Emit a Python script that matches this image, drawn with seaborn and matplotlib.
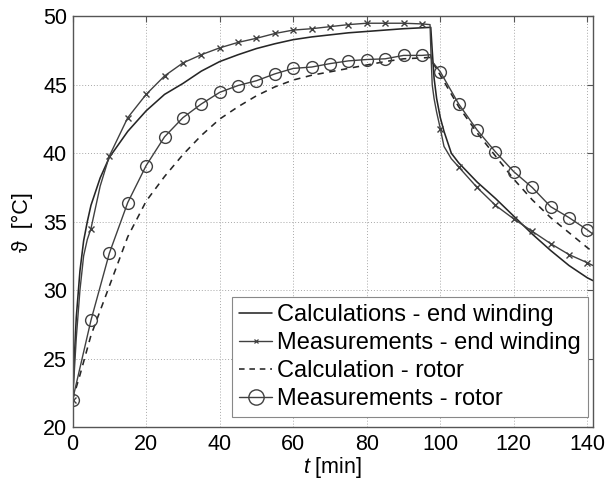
import numpy as np
import pandas as pd
import matplotlib
matplotlib.use("Agg")
import matplotlib.pyplot as plt
from matplotlib.lines import Line2D
import seaborn as sns

# end winding - calculation
t_calc_ew = [0, 0.5, 1, 2, 3, 4, 5, 7.5, 10, 15, 20, 25, 30, 35, 40, 45, 50, 55, 60, 65,
             70, 75, 80, 85, 90, 97.4, 97.8, 98.3, 99, 100, 101, 103, 105, 110, 115, 120,
             125, 130, 135, 140, 141.5]
calc_ew = [22.0, 25.2, 28.0, 31.4, 33.6, 35.0, 36.2, 38.2, 39.7, 41.6, 43.1, 44.3, 45.1,
           46.0, 46.7, 47.2, 47.65, 48.0, 48.3, 48.5, 48.65, 48.8, 48.9, 49.0, 49.1, 49.2,
           47.5, 45.5, 44.0, 42.6, 41.6, 40.0, 39.3, 37.9, 36.7, 35.4, 34.1, 32.9, 31.8,
           30.9, 30.7]

# end winding - measurement
t_meas_ew = [0, 0.5, 1, 2, 3, 4, 5, 7.5, 10, 15, 20, 25, 30, 35, 40, 45, 50, 55, 60, 65,
             70, 75, 80, 85, 90, 95, 97.2, 97.5, 97.8, 98.3, 99, 100, 101, 103, 105, 110,
             115, 120, 125, 130, 135, 140, 141.5]
meas_ew = [22.0, 24.2, 26.5, 30.0, 32.5, 33.7, 34.5, 37.6, 39.8, 42.6, 44.3, 45.65, 46.6,
           47.2, 47.7, 48.1, 48.4, 48.75, 49.0, 49.1, 49.25, 49.4, 49.5, 49.5, 49.5, 49.45,
           49.4, 47.0, 45.0, 44.0, 43.0, 41.8, 40.5, 39.6, 39.0, 37.5, 36.2, 35.2, 34.3,
           33.4, 32.6, 32.0, 31.8]

# rotor - calculation
t_calc_rot = [0, 2, 5, 10, 15, 20, 25, 30, 35, 40, 45, 50, 55, 60, 65, 70, 75, 80, 85, 90,
              97.3, 97.8, 100, 105, 110, 115, 120, 125, 130, 135, 140, 141.5]
calc_rot = [22.0, 23.8, 26.7, 30.3, 33.9, 36.5, 38.3, 39.9, 41.3, 42.5, 43.4, 44.2, 44.85,
            45.35, 45.7, 45.95, 46.2, 46.45, 46.7, 46.9, 47.0, 46.7, 45.7, 43.4, 41.5,
            39.8, 38.1, 36.6, 35.3, 34.2, 33.1, 32.8]

# rotor - measurement
t_meas_rot = [0, 5, 10, 15, 20, 25, 30, 35, 40, 45, 50, 55, 60, 65, 70, 75, 80, 85, 90, 95,
              97.3, 97.8, 100, 105, 110, 115, 120, 125, 130, 135, 140, 141.5]
meas_rot = [22.0, 27.8, 32.7, 36.4, 39.1, 41.2, 42.6, 43.6, 44.45, 44.95, 45.3, 45.8, 46.2,
            46.3, 46.55, 46.75, 46.85, 46.9, 47.15, 47.15, 47.2, 46.7, 45.95, 43.6, 41.7,
            40.1, 38.65, 37.5, 36.1, 35.3, 34.4, 34.1]

labels = ["Calculations - end winding", "Measurements - end winding",
          "Calculation - rotor", "Measurements - rotor"]


def every5(ts):
    return [i for i, v in enumerate(ts) if v % 5 == 0 and v <= 140]


sns.set_theme(style="white")
plt.rcParams["font.family"] = ["Liberation Sans", "DejaVu Sans"]
plt.rcParams["mathtext.fontset"] = "custom"
plt.rcParams["mathtext.it"] = "Liberation Sans:italic"
plt.rcParams["mathtext.rm"] = "Liberation Sans"
plt.rcParams["xtick.direction"] = "in"
plt.rcParams["ytick.direction"] = "in"
plt.rcParams["text.color"] = "black"
plt.rcParams["axes.labelcolor"] = "black"

fig = plt.figure(figsize=(6.1, 4.82), dpi=100)
ax = fig.add_axes([0.119, 0.114, 0.853, 0.852])

lc = "#262626"
mc = "#404040"

sns.lineplot(x=t_calc_ew, y=calc_ew, ax=ax, color=lc, lw=1.15)
sns.lineplot(x=t_meas_ew, y=meas_ew, ax=ax, color=mc, lw=1.0, marker="x",
             markevery=every5(t_meas_ew), ms=4, mew=1.0, mec=mc)
sns.lineplot(x=t_calc_rot, y=calc_rot, ax=ax, color=lc, lw=1.15, linestyle=(0, (4, 3.5)))
sns.lineplot(x=t_meas_rot, y=meas_rot, ax=ax, color=mc, lw=1.0, marker="o",
             markevery=every5(t_meas_rot), ms=8.5, mfc="none", mec=mc, mew=1.0)

ax.set_xlim(0, 141.5)
ax.set_ylim(20, 50)
ax.set_xticks(np.arange(0, 141, 20))
ax.set_yticks(np.arange(20, 51, 5))
ax.grid(True, linestyle=(0, (1, 2)), color="#a8a8a8", lw=0.7)
ax.tick_params(axis="both", labelsize=15.5, length=4, width=0.8, color="#555555",
               labelcolor="black", top=True, right=True)
ax.tick_params(axis="x", pad=5)
ax.tick_params(axis="y", pad=4)
for s in ax.spines.values():
    s.set_color("#555555")
    s.set_linewidth(1.0)

ax.set_xlabel(r"$t$ [min]", fontsize=15.5, labelpad=0)
ax.set_ylabel("ϑ  [°C]", fontsize=15.5, labelpad=7)

handles = [
    Line2D([], [], color=lc, lw=1.15),
    Line2D([], [], color=mc, lw=1.0, marker="x", ms=3.5, mew=0.9),
    Line2D([], [], color=lc, lw=1.15, linestyle=(0, (3.5, 3))),
    Line2D([], [], color=mc, lw=1.0, marker="o", ms=11, mfc="none", mew=1.0),
]
leg = ax.legend(handles, labels, loc="upper right", bbox_to_anchor=(0.99, 0.3165),
                borderaxespad=0, fontsize=17, frameon=True, fancybox=False,
                handlelength=1.4, handletextpad=0.2, labelspacing=0.25,
                borderpad=0.3)
leg.get_frame().set_edgecolor("#888888")
leg.get_frame().set_linewidth(0.8)
leg.get_frame().set_alpha(1)

fig.savefig("out.png", dpi=100)
